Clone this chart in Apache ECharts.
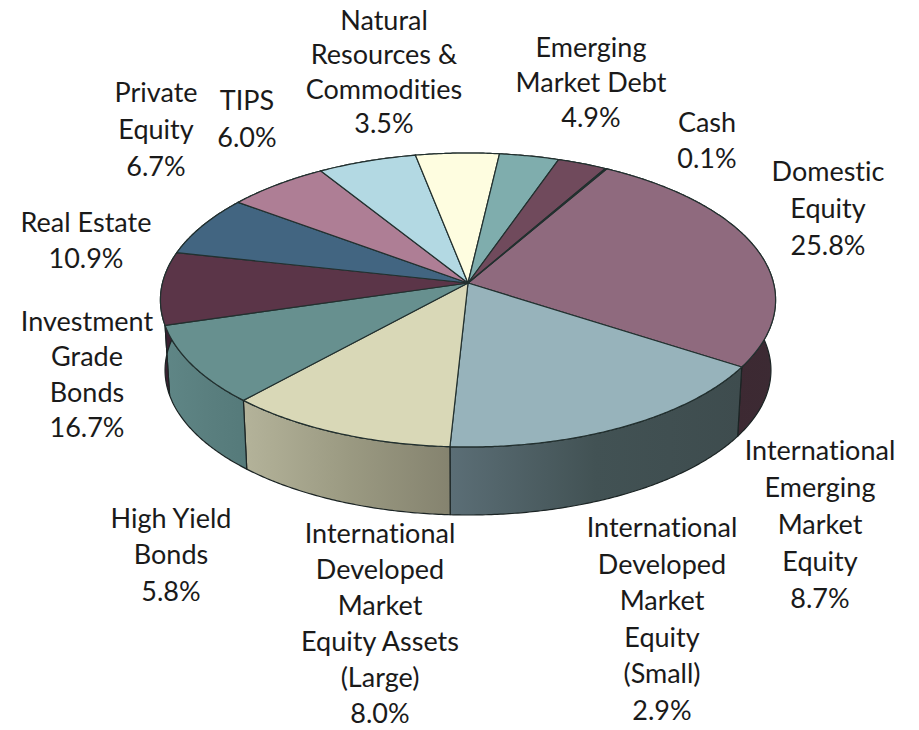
<!DOCTYPE html>
<html>
<head>
<meta charset="utf-8">
<title>Asset allocation</title>
<style>
  html, body { margin: 0; padding: 0; background: #fff; }
  #chart { width: 919px; height: 730px; }
  #chart text { font-variant-ligatures: none !important; }
</style>
<script src="https://cdn.jsdelivr.net/npm/echarts@6/dist/echarts.min.js"></script>
</head>
<body>
<div id="chart"></div>
<script>
// slices clockwise from the Cash / Domestic Equity edge
const sliceValues = [25.8, 16.7, 10.9, 8.7, 8.0, 6.7, 6.0, 5.8, 4.9, 3.5, 2.9, 0.1]

const labelTexts = [
  'Natural\nResources &\nCommodities\n3.5%',
  'Emerging\nMarket Debt\n4.9%',
  'Cash\n0.1%',
  'Domestic\nEquity\n25.8%',
  'Private\nEquity\n6.7%',
  'TIPS\n6.0%',
  'Real Estate\n10.9%',
  'Investment\nGrade\nBonds\n16.7%',
  'High Yield\nBonds\n5.8%',
  'International\nDeveloped\nMarket\nEquity Assets\n(Large)\n8.0%',
  'International\nDeveloped\nMarket\nEquity\n(Small)\n2.9%',
  'International\nEmerging\nMarket\nEquity\n8.7%'
]

const topColors = ['#8f6a7e', '#97b3bb', '#d9d8b7', '#67908f', '#5b3548', '#426581',
  '#ae7e95', '#b3d9e3', '#fefde0', '#7fadad', '#704a5c', '#111111']

// left, middle, right colour of each side wall
const wallColors = [
  ['#3e2731', '#3d2831', '#3c2a33'],
  ['#5b6e76', '#425254', '#3e4c4e'],
  ['#b4b39a', '#9b9a82', '#85836f'],
  ['#5f8686', '#5a7f7f', '#557a7a'],
  ['#3a2030', '#3a2030', '#3a2030'],
  ['#2c4557', '#2c4557', '#2c4557'],
  ['#75556a', '#75556a', '#75556a'],
  ['#7a939b', '#7a939b', '#7a939b'],
  ['#aaa998', '#aaa998', '#aaa998'],
  ['#557676', '#557676', '#557676'],
  ['#4c3240', '#4c3240', '#4c3240'],
  ['#111111', '#111111', '#111111']
]

// centre x, centre y and line height of each text block
const labelSpots = [
  [384, 71, 34.5], [591, 81.5, 35], [707, 139.5, 36], [828, 207.5, 37], [156, 128.5, 37], [247, 117.5, 37],
  [86, 239.5, 36], [87, 373.5, 35.5], [171, 553.5, 36.5], [380, 622.5, 36], [662, 618, 36.5], [820, 523.5, 37]
]

const START_DEG = 30
const CX = 468, CY = 283, RX = 305.5, RY = 145, TILT = 0.1157
const WALL_DROP = 70.5, WALL_SCALE = 0.985

// slice edges in degrees, clockwise from the far point of the disc
const total = sliceValues.reduce((a, b) => a + b, 0)
let acc = START_DEG
const sliceRows = sliceValues.map((v, i) => {
  const from = acc
  acc += v / total * 360
  return [from, acc, i]
})

function rimPoint(deg, drop, scale) {
  const t = deg * Math.PI / 180
  const X = Math.sin(t), Y = Math.cos(t)
  const w = 1 + TILT * Y
  return [CX + scale * RX * X / w, CY + drop - scale * RY * Y / w]
}

function rimArc(from, to, drop, scale) {
  const pts = []
  const n = Math.max(1, Math.ceil((to - from) / 0.5))
  for (let i = 0; i <= n; i++) pts.push(rimPoint(from + (to - from) * i / n, drop, scale))
  return pts
}

function renderTop(params, api) {
  const i = api.value(2)
  const pts = [[CX, CY]].concat(rimArc(api.value(0), api.value(1), 0, 1))
  return {
    type: 'polygon',
    shape: { points: pts },
    style: { fill: topColors[i], stroke: '#22302f', lineWidth: 1.2, lineJoin: 'round' }
  }
}

function renderWall(params, api) {
  const i = api.value(2)
  const a = api.value(0), b = api.value(1)
  const pts = rimArc(a, b, 0, 1).concat(rimArc(a, b, WALL_DROP, WALL_SCALE).reverse())
  return {
    type: 'polygon',
    shape: { points: pts },
    style: {
      fill: new echarts.graphic.LinearGradient(0, 0, 1, 0, [
        { offset: 0, color: wallColors[i][0] },
        { offset: 0.5, color: wallColors[i][1] },
        { offset: 1, color: wallColors[i][2] }
      ]),
      stroke: '#1b2424',
      lineWidth: 1.2,
      lineJoin: 'round'
    }
  }
}

const chart = echarts.init(document.getElementById('chart'), null, { renderer: 'svg' })
chart.setOption({
  animation: false,
  backgroundColor: '#ffffff',
  series: [
    { type: 'custom', coordinateSystem: 'none', silent: true, clip: false, data: sliceRows, renderItem: renderWall, z: 1 },
    { type: 'custom', coordinateSystem: 'none', silent: true, clip: false, data: sliceRows, renderItem: renderTop, z: 2 }
  ],
  graphic: labelTexts.map((text, i) => ({
    type: 'text',
    x: labelSpots[i][0],
    y: labelSpots[i][1],
    z: 5,
    style: {
      text,
      fill: '#1a1a1a',
      font: '27px Lato',
      lineHeight: labelSpots[i][2],
      align: 'center',
      verticalAlign: 'middle'
    }
  }))
})
</script>
</body>
</html>
